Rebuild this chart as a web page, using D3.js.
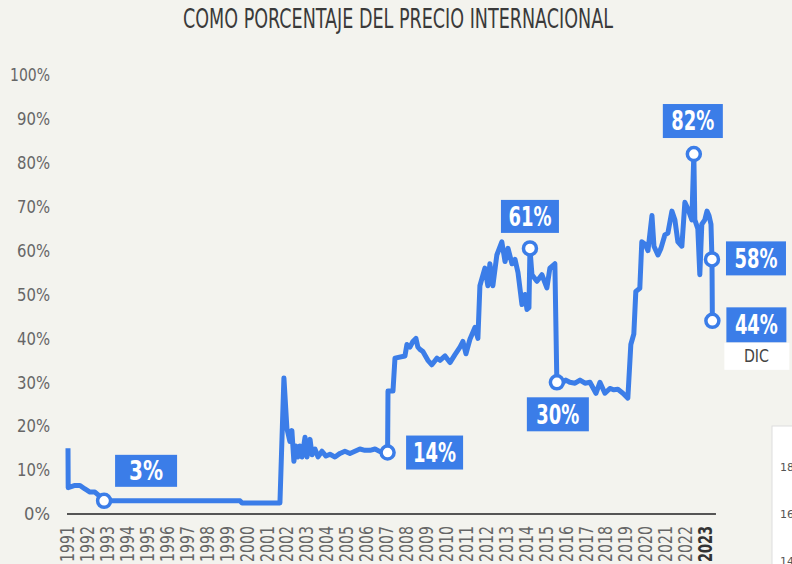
<!DOCTYPE html>
<html>
<head>
<meta charset="utf-8">
<script src="https://cdn.jsdelivr.net/npm/d3@7"></script>
<style>
  body { margin: 0; background: #f3f3ee; }
  svg { display: block; }
  text { font-family: "DejaVu Sans Condensed", "Liberation Sans Narrow", sans-serif; }
</style>
</head>
<body>
<svg id="chart" width="792" height="564"></svg>
<script>
var width = 792, height = 564;

// data: fecha (año decimal) y porcentaje del precio internacional
var fechas = [1991.05, 1991.06, 1991.40, 1991.65, 1991.90, 1992.15, 1992.40, 1992.65, 1992.86,
  1999.68, 1999.78, 2001.68, 2001.88, 2002.03, 2002.18, 2002.28, 2002.38, 2002.48, 2002.58,
  2002.68, 2002.79, 2002.94, 2003.04, 2003.19, 2003.29, 2003.44, 2003.59, 2003.79, 2003.99,
  2004.19, 2004.44, 2004.69, 2004.94, 2005.19, 2005.44, 2005.69, 2005.94, 2006.20, 2006.45,
  2006.70, 2007.05, 2007.08, 2007.10, 2007.35, 2007.45, 2007.95, 2008.05, 2008.20, 2008.35,
  2008.50, 2008.60, 2008.70, 2008.85, 2009.10, 2009.30, 2009.56, 2009.71, 2009.96, 2010.21,
  2010.46, 2010.71, 2010.86, 2011.01, 2011.21, 2011.46, 2011.61, 2011.71, 2011.96, 2012.11,
  2012.21, 2012.36, 2012.56, 2012.81, 2012.97, 2013.12, 2013.32, 2013.47, 2013.62, 2013.82,
  2013.97, 2014.07, 2014.17, 2014.22, 2014.32, 2014.57, 2014.82, 2015.07, 2015.22, 2015.47,
  2015.57, 2015.82, 2016.02, 2016.22, 2016.48, 2016.73, 2016.98, 2017.23, 2017.53, 2017.73,
  2017.98, 2018.23, 2018.43, 2018.63, 2018.88, 2019.13, 2019.28, 2019.43, 2019.53, 2019.73,
  2019.83, 2019.98, 2020.14, 2020.34, 2020.44, 2020.64, 2020.79, 2020.99, 2021.14, 2021.34,
  2021.49, 2021.64, 2021.84, 2021.99, 2022.14, 2022.34, 2022.44, 2022.49, 2022.64, 2022.74,
  2022.84, 2022.99, 2023.10, 2023.20, 2023.30, 2023.35, 2023.37];
var valores = [15, 6, 6.5, 6.5, 5.7, 5, 5, 4, 3,
  3, 2.5, 2.5, 31, 19.5, 16.5, 19, 12, 15.5, 13,
  15.5, 13, 17.5, 13, 17, 13.5, 14.8, 13, 14.3, 13.2,
  13.6, 13, 13.8, 14.3, 13.8, 14.3, 14.8, 14.5, 14.5, 14.8,
  14.2, 13.8, 14, 28, 28, 35.5, 36, 38.6, 38, 39.3,
  40, 38, 37.5, 37, 35, 34, 35.5, 35, 36, 34.5,
  36.3, 38, 39.3, 36.5, 39.8, 42.5, 40, 52, 56, 52,
  57, 52, 59, 62, 57.5, 60.5, 57, 58, 55, 47.7,
  50, 46.6, 47, 60.5, 54.5, 53, 54.5, 51.5, 56, 57,
  30, 29.8, 30.5, 30, 29.8, 30.5, 29.8, 30, 27.5, 30,
  27.5, 28.6, 28.3, 28.4, 27.5, 26.4, 38.6, 41, 50.7, 51.4,
  62, 61.5, 60, 68, 61, 59, 60.5, 63.6, 64, 69,
  67, 62, 61, 71, 69.5, 67, 82, 67, 65, 54.5,
  66, 67, 69, 68, 66, 58, 44];

// puntos destacados
var hitosFecha = [1992.86, 2007.08, 2014.22, 2015.57, 2022.44, 2023.35, 2023.37];
var hitosValor = [3, 14, 60.5, 30, 82, 58, 44];
var hitosTexto = ["3%", "14%", "61%", "30%", "82%", "58%", "44%"];

var anios = d3.range(1991, 2024);
var yTicks = [0, 10, 20, 30, 40, 50, 60, 70, 80, 90, 100];

var azul = "#3b7de8";

var svg = d3.select("#chart");
svg.append("rect").attr("width", width).attr("height", height).attr("fill", "#f3f3ee");

// scales
var x = d3.scaleLinear().domain([1991, 2023]).range([67, 705]);
var y = d3.scaleLinear().domain([0, 100]).range([514, 75]);

// title
svg.append("text")
  .attr("x", 398).attr("y", 28)
  .attr("text-anchor", "middle")
  .attr("font-size", 26)
  .attr("textLength", 430).attr("lengthAdjust", "spacingAndGlyphs")
  .attr("fill", "#3a3a3a")
  .text("COMO PORCENTAJE DEL PRECIO INTERNACIONAL");

// y axis
var yAxis = d3.axisLeft(y).tickValues(yTicks).tickSize(0).tickPadding(0)
  .tickFormat(function(d){ return d + "%"; });
var gy = svg.append("g").attr("transform", "translate(50,0)").call(yAxis);
gy.select(".domain").remove();
gy.selectAll("text")
  .attr("font-size", 18).attr("fill", "#666")
  .attr("lengthAdjust", "spacingAndGlyphs")
  .attr("textLength", function(d){ return 7 * String(d).length + 19; })
  .style("font-family", "'DejaVu Sans Condensed', sans-serif");

// x axis
var xAxis = d3.axisBottom(x).tickValues(anios).tickSize(0).tickFormat(d3.format("d"));
var gx = svg.append("g").attr("transform", "translate(0,514)").call(xAxis);
gx.select(".domain").remove();
gx.selectAll("text")
  .attr("transform", "rotate(-90)")
  .attr("text-anchor", "end")
  .attr("x", -12).attr("y", 0).attr("dy", "0.35em")
  .attr("font-size", 19)
  .attr("lengthAdjust", "spacingAndGlyphs")
  .attr("textLength", 36)
  .attr("fill", function(d){ return d === 2023 ? "#333" : "#666"; })
  .attr("font-weight", function(d){ return d === 2023 ? "bold" : "normal"; })
  .style("font-family", "'DejaVu Sans Condensed', sans-serif");

// baseline
svg.append("line")
  .attr("x1", x(1991)).attr("x2", x(2023.55))
  .attr("y1", y(0)).attr("y2", y(0))
  .attr("stroke", "#555").attr("stroke-width", 2);

// line
var serie = fechas.map(function(f, i){ return [f, valores[i]]; });
var line = d3.line()
  .x(function(d){ return x(d[0]); })
  .y(function(d){ return y(d[1]); });
svg.append("path")
  .datum(serie)
  .attr("d", line)
  .attr("fill", "none")
  .attr("stroke", azul)
  .attr("stroke-width", 5)
  .attr("stroke-linejoin", "round");

// markers
var hitos = hitosFecha.map(function(f, i){ return {t: f, v: hitosValor[i], txt: hitosTexto[i]}; });
svg.selectAll("circle.hito")
  .data(hitos).enter().append("circle")
  .attr("class", "hito")
  .attr("cx", function(d){ return x(d.t); })
  .attr("cy", function(d){ return y(d.v); })
  .attr("r", 6.5)
  .attr("fill", "#fff")
  .attr("stroke", azul)
  .attr("stroke-width", 3.5);

// label boxes: offset from the marker, and size
var cajas = [
  {dx: 42, dy: -30, w: 62, h: 32},
  {dx: 47, dy: 0, w: 57, h: 34},
  {dx: 0, dy: -32, w: 58, h: 33},
  {dx: 1, dy: 32, w: 62, h: 34},
  {dx: -1, dy: -33, w: 60, h: 34},
  {dx: 44, dy: -1, w: 60, h: 34},
  {dx: 44, dy: 4, w: 60, h: 35}
];
var etiquetas = svg.selectAll("g.etiqueta")
  .data(hitos).enter().append("g")
  .attr("class", "etiqueta")
  .attr("transform", function(d, i){
    return "translate(" + [x(d.t) + cajas[i].dx, y(d.v) + cajas[i].dy] + ")";
  });
etiquetas.append("rect")
  .attr("x", function(d, i){ return -cajas[i].w / 2; })
  .attr("y", function(d, i){ return -cajas[i].h / 2; })
  .attr("width", function(d, i){ return cajas[i].w; })
  .attr("height", function(d, i){ return cajas[i].h; })
  .attr("fill", azul);
etiquetas.append("text")
  .attr("text-anchor", "middle")
  .attr("dy", "0.36em")
  .attr("font-size", 26)
  .attr("font-weight", "bold")
  .attr("lengthAdjust", "spacingAndGlyphs")
  .attr("textLength", function(d){ return d.txt.length === 2 ? 34 : 43; })
  .attr("fill", "#fff")
  .text(function(d){ return d.txt; });

// DIC tag under the last label
var ultimo = hitos[hitos.length - 1];
var gDic = svg.append("g")
  .attr("transform", "translate(" + [x(ultimo.t) + 44, y(ultimo.v) + 35] + ")");
gDic.append("rect").attr("x", -32).attr("y", -13).attr("width", 65).attr("height", 27).attr("fill", "#fff");
gDic.append("text").attr("text-anchor", "middle").attr("dy", "0.36em")
  .attr("font-size", 17).attr("fill", "#444")
  .attr("lengthAdjust", "spacingAndGlyphs").attr("textLength", 25)
  .text("DIC");

// piece of the neighbouring panel at the right edge
var panel = svg.append("g");
panel.append("rect").attr("x", 772).attr("y", 426).attr("width", 30).attr("height", 150)
  .attr("fill", "#fff").attr("stroke", "#ddd");
panel.selectAll("text").data(["18", "16", "14"]).enter().append("text")
  .attr("x", 780).attr("y", function(d, i){ return 471 + i * 47; })
  .attr("font-size", 11).attr("fill", "#555")
  .style("font-family", "'DejaVu Sans', sans-serif")
  .text(function(d){ return d; });
</script>
</body>
</html>
